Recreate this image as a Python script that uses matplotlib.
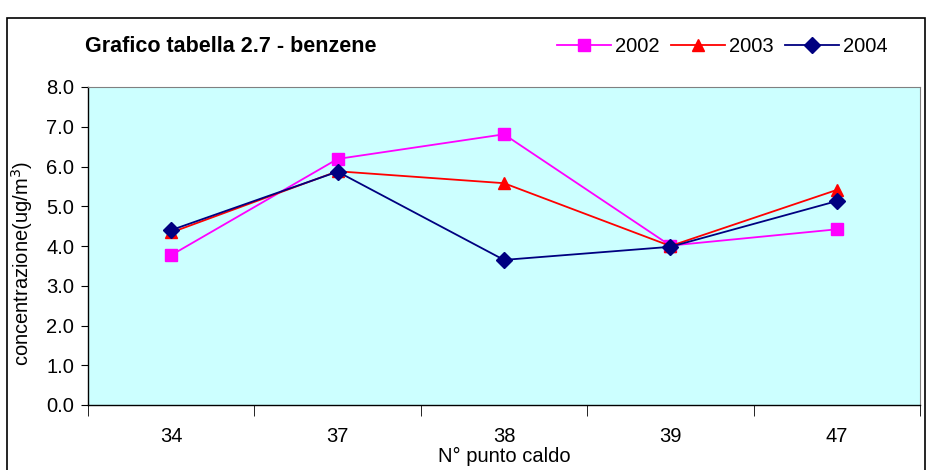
import matplotlib.pyplot as plt
from matplotlib.patches import Rectangle

plt.rcParams["font.family"] = ["Liberation Sans", "DejaVu Sans"]

categories = ["34", "37", "38", "39", "47"]
years = ["2002", "2003", "2004"]
val_2002 = [3.77, 6.19, 6.81, 4.01, 4.42]
val_2003 = [4.34, 5.88, 5.58, 4.00, 5.41]
val_2004 = [4.40, 5.87, 3.65, 3.98, 5.13]

series = [val_2002, val_2003, val_2004]
colors = ["#FF00FF", "#FF0000", "#000080"]
markers = ["s", "^", "D"]
msizes = [9, 9, 8]
fs = 14.5

fig = plt.figure(figsize=(9.29, 4.70), dpi=100)
ax = fig.add_axes([88 / 929, 65 / 470, 832 / 929, 318 / 470])
ax.set_facecolor("#CCFFFF")

x = list(range(len(categories)))
for vals, name, c, m, ms in zip(series, years, colors, markers, msizes):
    ax.plot(x, vals, color=c, marker=m, markersize=ms, linewidth=1.3, label=name)

ax.set_xlim(-0.5, len(categories) - 0.5)
ax.set_ylim(0, 8)
ax.set_yticks([i * 1.0 for i in range(9)])
ax.set_yticklabels([f"{i:.1f}" for i in range(9)], fontsize=fs)
ax.set_xticks(x)
ax.set_xticklabels(categories, fontsize=fs)
ax.tick_params(axis="x", length=0, pad=16)
ax.set_xticks([i - 0.5 for i in range(len(categories) + 1)], minor=True)
ax.tick_params(axis="x", which="minor", length=8, direction="out", color="black")
ax.tick_params(axis="y", length=5, direction="out", pad=5)

ax.spines["top"].set_color("#808080")
ax.spines["right"].set_color("#808080")
for s in ["left", "bottom"]:
    ax.spines[s].set_color("black")
    ax.spines[s].set_linewidth(1.0)

ax.set_xlabel("N° punto caldo", fontsize=fs)
ax.xaxis.set_label_coords(0.5, -0.133)
ax.set_ylabel("concentrazione(ug/m$^3$)", fontsize=fs)
ax.yaxis.set_label_coords(-0.064, 0.445)

fig.text(85 / 929, 1 - 47 / 470, "Grafico tabella 2.7 - benzene",
         fontsize=15.5, fontweight="bold", va="center", ha="left")

ax.legend(loc="center left", bbox_to_anchor=(557 / 929, 1 - 47 / 470),
          bbox_transform=fig.transFigure, ncol=3, frameon=False,
          fontsize=fs, handlelength=2.7, columnspacing=0.55, handletextpad=0.2,
          borderaxespad=0, borderpad=0)

fig.patches.append(Rectangle((7 / 929, -0.05), 918 / 929, 1 - 18 / 470 + 0.05,
                             transform=fig.transFigure, fill=False,
                             edgecolor="black", linewidth=1.2))

fig.savefig("out.png", dpi=100)
